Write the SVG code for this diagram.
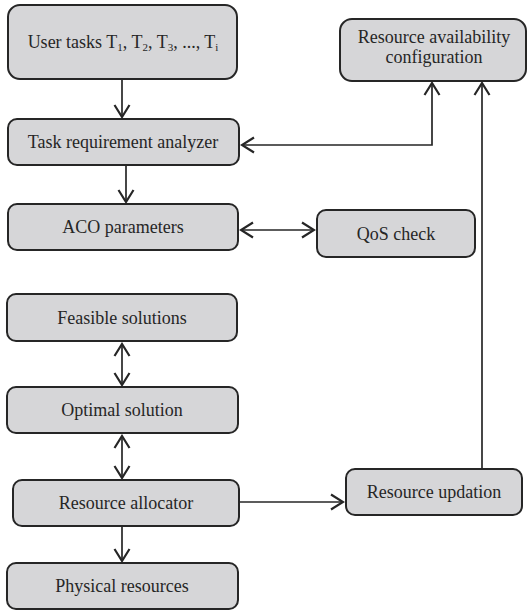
<svg xmlns="http://www.w3.org/2000/svg" width="528" height="611" viewBox="0 0 528 611">
<defs>
<style>
.box{fill:#d6d6d8;stroke:#262626;stroke-width:2}
.lbl{font-family:"Liberation Serif","Times New Roman",Times,"DejaVu Serif",serif;font-size:18px;fill:#262626;text-anchor:middle}
.sub{font-size:11px}
.con{fill:none;stroke:#262626;stroke-width:1.7}
</style>
<marker id="ah" markerUnits="userSpaceOnUse" markerWidth="16" markerHeight="18" viewBox="-14 -9 16 18" refX="0" refY="0" orient="auto-start-reverse">
<path d="M-12,-7.5 L0,0 L-12,7.5" fill="none" stroke="#262626" stroke-width="2.2"/>
</marker>
</defs>
<rect width="528" height="611" fill="#ffffff"/>
<g id="connectors">
<line class="con" x1="122" y1="79" x2="122" y2="117" marker-end="url(#ah)"/>
<line class="con" x1="126" y1="165" x2="126" y2="202" marker-end="url(#ah)"/>
<line class="con" x1="241" y1="230" x2="314" y2="230" marker-start="url(#ah)" marker-end="url(#ah)"/>
<path class="con" d="M242,145 H432 V83" marker-start="url(#ah)" marker-end="url(#ah)"/>
<line class="con" x1="482" y1="469" x2="482" y2="83" marker-end="url(#ah)"/>
<line class="con" x1="122" y1="344" x2="122" y2="385" marker-start="url(#ah)" marker-end="url(#ah)"/>
<line class="con" x1="122" y1="436" x2="122" y2="478" marker-start="url(#ah)" marker-end="url(#ah)"/>
<line class="con" x1="239" y1="502" x2="343" y2="502" marker-end="url(#ah)"/>
<line class="con" x1="122" y1="526" x2="122" y2="561" marker-end="url(#ah)"/>
</g>
<g id="user-tasks">
<rect class="box" x="8" y="5" width="229" height="74" rx="12"/>
<text class="lbl" x="123" y="48">User tasks T<tspan class="sub" dy="3">1</tspan><tspan dy="-3">, T</tspan><tspan class="sub" dy="3">2</tspan><tspan dy="-3">, T</tspan><tspan class="sub" dy="3">3</tspan><tspan dy="-3">, ..., T</tspan><tspan class="sub" dy="3">i</tspan></text>
</g>
<g id="task-analyzer">
<rect class="box" x="8" y="119" width="231" height="46" rx="9"/>
<text class="lbl" x="123" y="148">Task requirement analyzer</text>
</g>
<g id="aco-parameters">
<rect class="box" x="8" y="204" width="230" height="46" rx="9"/>
<text class="lbl" x="123" y="233">ACO parameters</text>
</g>
<g id="qos-check">
<rect class="box" x="317" y="210" width="158" height="47" rx="9"/>
<text class="lbl" x="396" y="240">QoS check</text>
</g>
<g id="resource-availability">
<rect class="box" x="340" y="19" width="186" height="62" rx="12"/>
<text class="lbl" x="434" y="43">Resource availability</text>
<text class="lbl" x="434" y="63">configuration</text>
</g>
<g id="feasible-solutions">
<rect class="box" x="7" y="294" width="230" height="47" rx="9"/>
<text class="lbl" x="122" y="324">Feasible solutions</text>
</g>
<g id="optimal-solution">
<rect class="box" x="7" y="387" width="231" height="46" rx="9"/>
<text class="lbl" x="122" y="416">Optimal solution</text>
</g>
<g id="resource-allocator">
<rect class="box" x="13" y="480" width="226" height="46" rx="9"/>
<text class="lbl" x="126" y="509">Resource allocator</text>
</g>
<g id="resource-updation">
<rect class="box" x="346" y="469" width="176" height="46" rx="9"/>
<text class="lbl" x="434" y="498">Resource updation</text>
</g>
<g id="physical-resources">
<rect class="box" x="7" y="563" width="231" height="46" rx="9"/>
<text class="lbl" x="122" y="592">Physical resources</text>
</g>
</svg>
